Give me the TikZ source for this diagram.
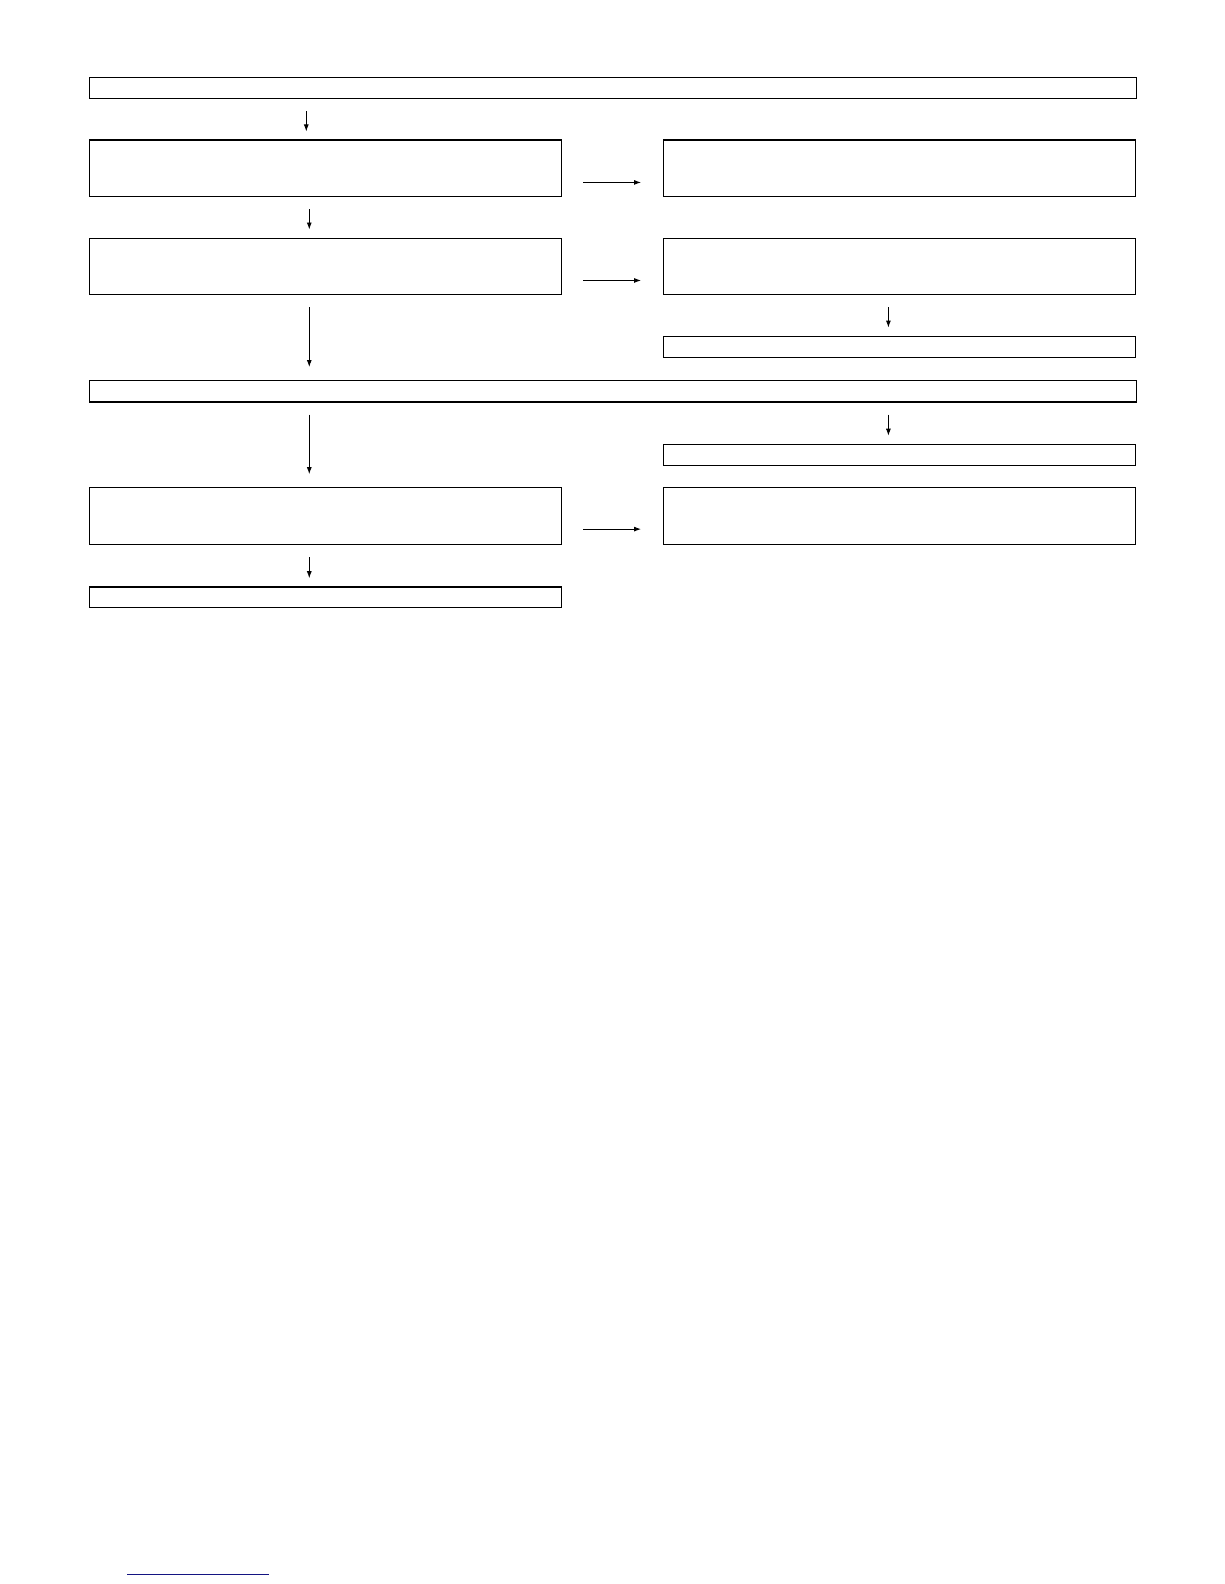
\documentclass[tikz,border=0pt]{standalone}
\usetikzlibrary{arrows.meta}
\begin{document}
\begin{tikzpicture}[x=1.0107pt,y=-1.0107pt,
  boxw/.style={draw=black,line width=1.3pt,inner sep=0pt,anchor=north west,minimum height=#1},
  full/.style={boxw=21.2pt,minimum width=1047pt},
  half/.style={boxw=#1,minimum width=472pt},
  arr/.style={draw=black,line width=0.9pt,-{Latex[length=7pt,width=5pt]}},
]
\useasboundingbox (0pt,0pt) rectangle (1224pt,-1584pt);
\coordinate (colL) at (306,0);
\coordinate (colR) at (879,0);
% boxes
\node[full] (A) at (88,76) {};
\node[half=56.6pt] (B1) at (88,138) {};
\node[half=56.6pt] (B2) at (656,138) {};
\node[half=56.6pt] (C1) at (88,235) {};
\node[half=56.6pt] (C2) at (656,235) {};
\node[half=21.2pt] (D2) at (656,332) {};
\node[full] (E) at (88,376) {};
\node[half=21.2pt] (F2) at (656,439) {};
\node[half=56.6pt] (G1) at (88,482) {};
\node[half=56.6pt] (G2) at (656,482) {};
\node[half=20.5pt] (H1) at (88,580) {};
% vertical arrows
\draw[arr,shorten <=12pt,shorten >=8pt] ([xshift=-3pt]A.south -| colL) -- ([xshift=-3pt]B1.north -| colL);
\draw[arr,shorten <=12pt,shorten >=8pt] (B1.south -| colL) -- (C1.north -| colL);
\draw[arr,shorten <=12pt,shorten >=13pt] (C1.south -| colL) -- (E.north -| colL);
\draw[arr,shorten <=12pt,shorten >=13pt] (E.south -| colL) -- (G1.north -| colL);
\draw[arr,shorten <=12pt,shorten >=8pt] (G1.south -| colL) -- (H1.north -| colL);
\draw[arr,shorten <=12pt,shorten >=8pt] (C2.south -| colR) -- (D2.north -| colR);
\draw[arr,shorten <=12pt,shorten >=8pt] (E.south -| colR) -- (F2.north -| colR);
% horizontal arrows
\draw[arr,shorten <=21pt,shorten >=22pt] ([yshift=-14pt]B1.east) -- ([yshift=-14pt]B2.west);
\draw[arr,shorten <=21pt,shorten >=22pt] ([yshift=-14pt]C1.east) -- ([yshift=-14pt]C2.west);
\draw[arr,shorten <=21pt,shorten >=22pt] ([yshift=-13pt]G1.east) -- ([yshift=-13pt]G2.west);
% link underline
\coordinate (u1) at (126,1558);
\coordinate (u2) at (266,1558);
\draw[draw={rgb,255:red,20;green,20;blue,130},line width=1pt] (u1) -- (u2);
\end{tikzpicture}
\end{document}
